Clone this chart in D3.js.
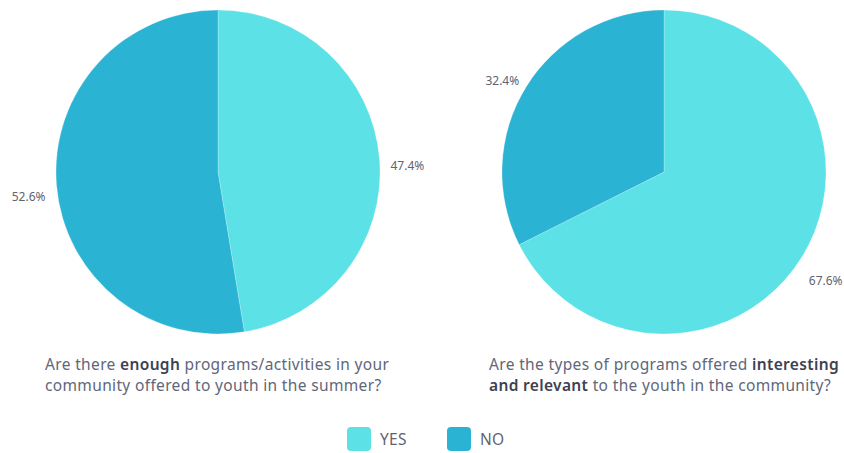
<!DOCTYPE html>
<meta charset="utf-8" />
<style>
  body { margin: 0; background: #fff; }
  text { font-family: "Noto Sans", "Open Sans", sans-serif; }
  .pct { font-size: 12px; fill: #5f6470; }
  .caption { font-size: 15.5px; fill: #61667a; letter-spacing: 0.35px; }
  .caption .strong { font-weight: 600; fill: #3d4152; }
  .legend text { font-size: 15.5px; fill: #5f6470; letter-spacing: 0.3px; }
</style>
<body>
  <script src="https://d3js.org/d3.v7.min.js"></script>
  <script>
    // chart data
    var categories = ['YES', 'NO'];
    var colors = ['#5ce1e6', '#2bb3d4'];
    var enoughValues = [47.4, 52.6];
    var relevantValues = [67.6, 32.4];

    // captions: pieces of each line, bold flag
    var enoughCaption = [
      [['Are there ', false], ['enough', true], [' programs/activities in your', false]],
      [['community offered to youth in the summer?', false]]
    ];
    var relevantCaption = [
      [['Are the types of programs offered ', false], ['interesting', true]],
      [['and relevant', true], [' to the youth in the community?', false]]
    ];

    var width = 844, height = 453;
    var radius = 162, labelRadius = 190;

    var svg = d3.select('body')
      .append('svg')
      .attr('width', width)
      .attr('height', height);

    var color = d3.scaleOrdinal().domain(categories).range(colors);

    var pie = d3.pie().sort(null).value(function(d) { return d.value; });
    var arc = d3.arc().innerRadius(0).outerRadius(radius);

    function drawPie(values, cx, cy, caption, capX) {
      var data = categories.map(function(c, i) { return { cat: c, value: values[i] }; });
      var g = svg.append('g').attr('transform', 'translate(' + cx + ',' + cy + ')');
      var arcs = pie(data);

      g.selectAll('path')
        .data(arcs)
        .enter()
        .append('path')
        .attr('d', arc)
        .attr('fill', function(d) { return color(d.data.cat); })
        .attr('stroke', '#ffffff')
        .attr('stroke-opacity', 0.4)
        .attr('stroke-width', 0.6);

      g.selectAll('text.pct')
        .data(arcs)
        .enter()
        .append('text')
        .attr('class', 'pct')
        .attr('text-anchor', 'middle')
        .attr('x', function(d) {
          var a = (d.startAngle + d.endAngle) / 2;
          return Math.sin(a) * labelRadius;
        })
        .attr('y', function(d) {
          var a = (d.startAngle + d.endAngle) / 2;
          return -Math.cos(a) * labelRadius + 13;
        })
        .text(function(d) { return d.data.value.toFixed(1) + '%'; });

      var cap = svg.append('text').attr('class', 'caption');
      caption.forEach(function(line, i) {
        line.forEach(function(part, j) {
          var t = cap.append('tspan')
            .attr('class', part[1] ? 'strong' : null)
            .text(part[0]);
          if (j === 0) t.attr('x', capX).attr('y', 370 + i * 21);
        });
      });
    }

    drawPie(enoughValues, 218, 172, enoughCaption, 45);
    drawPie(relevantValues, 664, 172, relevantCaption, 489);

    // legend
    var legend = svg.append('g').attr('class', 'legend');
    var item = legend.selectAll('g')
      .data(categories)
      .enter()
      .append('g')
      .attr('transform', function(d, i) { return 'translate(' + (347 + i * 100) + ',427)'; });
    item.append('rect')
      .attr('width', 24)
      .attr('height', 24)
      .attr('rx', 4)
      .attr('fill', function(d) { return color(d); });
    item.append('text')
      .attr('x', 33)
      .attr('y', 18)
      .text(function(d) { return d; });
  </script>
</body>
